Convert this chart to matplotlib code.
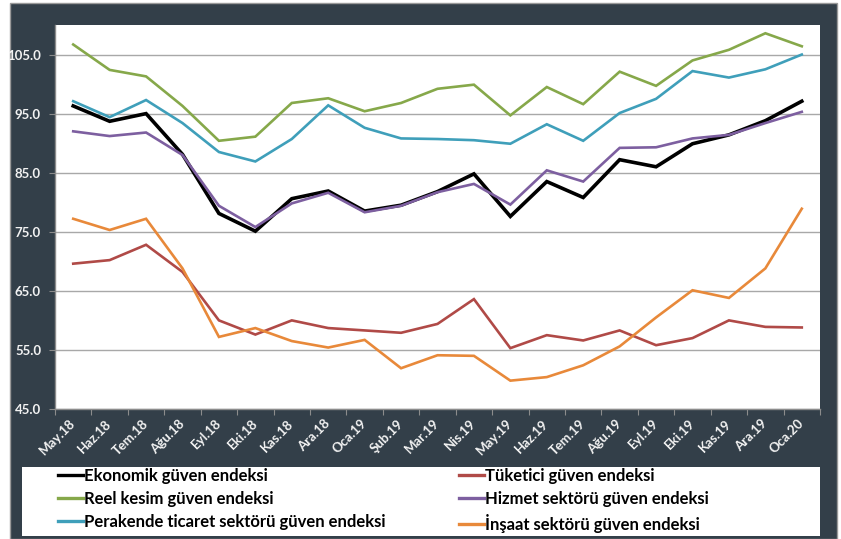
import matplotlib
matplotlib.use("Agg")
import matplotlib.pyplot as plt
import matplotlib.transforms as mtransforms
from matplotlib.patches import Rectangle
from matplotlib.lines import Line2D

plt.rcParams['font.family'] = ['Lato', 'DejaVu Sans']

months = ["May.18", "Haz.18", "Tem.18", "Ağu.18", "Eyl.18", "Eki.18", "Kas.18", "Ara.18",
          "Oca.19", "Şub.19", "Mar.19", "Nis.19", "May.19", "Haz.19", "Tem.19", "Ağu.19",
          "Eyl.19", "Eki.19", "Kas.19", "Ara.19", "Oca.20"]

ekonomik = [96.3, 93.7, 95.0, 88.1, 78.1, 75.1, 80.6, 81.9, 78.5, 79.5, 81.8, 84.8, 77.6,
            83.5, 80.8, 87.2, 86.0, 89.9, 91.4, 93.8, 97.1]
tuketici = [69.6, 70.2, 72.8, 68.2, 60.0, 57.6, 60.0, 58.7, 58.3, 57.9, 59.4, 63.6, 55.3,
            57.5, 56.6, 58.3, 55.8, 57.0, 60.0, 58.9, 58.8]
reel = [106.7, 102.4, 101.3, 96.3, 90.4, 91.1, 96.8, 97.6, 95.4, 96.8, 99.2, 99.9, 94.7,
        99.5, 96.6, 102.1, 99.7, 104.0, 105.8, 108.6, 106.4]
hizmet = [92.0, 91.2, 91.8, 88.0, 79.4, 75.8, 79.8, 81.6, 78.3, 79.4, 81.7, 83.1, 79.6,
          85.4, 83.5, 89.2, 89.3, 90.8, 91.4, 93.4, 95.3]
perakende = [97.1, 94.4, 97.3, 93.4, 88.5, 86.9, 90.7, 96.4, 92.6, 90.8, 90.7, 90.5, 89.9,
             93.2, 90.4, 95.1, 97.5, 102.2, 101.1, 102.5, 105.0]
insaat = [77.2, 75.3, 77.2, 68.8, 57.2, 58.7, 56.5, 55.4, 56.7, 51.9, 54.1, 54.0, 49.8,
          50.4, 52.4, 55.6, 60.5, 65.1, 63.8, 68.8, 78.9]

series = [
    ("Ekonomik güven endeksi", ekonomik, "#000000", 2.6),
    ("Tüketici güven endeksi", tuketici, "#B04A47", 1.9),
    ("Reel kesim güven endeksi", reel, "#86A84A", 1.9),
    ("Hizmet sektörü güven endeksi", hizmet, "#7D5FA0", 1.9),
    ("Perakende ticaret sektörü güven endeksi", perakende, "#3F9FBA", 1.9),
    ("İnşaat sektörü güven endeksi", insaat, "#E8893A", 1.9),
]

yticks = [45, 55, 65, 75, 85, 95, 105]

W, H = 841, 539
fig = plt.figure(figsize=(W / 100, H / 100), dpi=100)
fig.patch.set_facecolor("white")

bg = "#333F49"
fig.patches.append(Rectangle((10 / W, 0), 827 / W, 1 - 3 / H, transform=fig.transFigure,
                             facecolor=bg, edgecolor="#9A9A9A", linewidth=1.0, zorder=-10))
# legend area
fig.patches.append(Rectangle((22 / W, 1 - 536 / H), (820 - 22) / W, (536 - 467) / H,
                             transform=fig.transFigure, facecolor="white", edgecolor="none",
                             zorder=-5))

ax = fig.add_axes([55 / W, 1 - 409 / H, (820 - 55) / W, (409 - 25) / H])
ax.set_facecolor("white")

x = list(range(len(months)))
handles = {}
for name, vals, col, lw in series:
    ax.plot(x, vals, color=col, lw=lw, solid_joinstyle="miter", zorder=3)
    handles[name] = (col, lw)

ax.set_xlim(-0.5, len(months) - 0.5)
ax.set_ylim(45, 110)
ax.set_yticks(yticks)
ax.set_yticklabels([f"{v:.1f}" for v in yticks], color="#F2F2F2", fontsize=9.5, fontweight="bold")
ax.yaxis.grid(True, color="#A8A8A8", lw=1.0, zorder=1)
ax.set_axisbelow(True)

ax.set_xticks([i + 0.5 for i in range(-1, len(months))], minor=False)
ax.set_xticklabels([])
ax.set_xticks(x, minor=True)
ax.set_xticklabels(months, minor=True, rotation=45, ha="right", va="center",
                   rotation_mode="anchor", color="#F2F2F2", fontsize=9.5, fontweight="bold")
offset = mtransforms.ScaledTranslation(7 / 100, 0, fig.dpi_scale_trans)
for lab in ax.get_xticklabels(minor=True):
    lab.set_transform(lab.get_transform() + offset)
ax.tick_params(axis="x", which="minor", length=0, pad=9)
ax.tick_params(axis="x", which="major", length=4, color="#8C8C8C", direction="out")
ax.tick_params(axis="y", length=4, color="#8C8C8C", pad=6)

for s in ["top", "right"]:
    ax.spines[s].set_visible(False)
for s in ["left", "bottom"]:
    ax.spines[s].set_color("#8C8C8C")
    ax.spines[s].set_linewidth(1.0)


def make_legend(names, x0):
    hs = [Line2D([], [], color=handles[n][0], lw=2.4) for n in names]
    leg = fig.legend(hs, names, loc="upper left", bbox_to_anchor=(x0 / W, 1 - 468 / H),
                     frameon=False, borderpad=0, borderaxespad=0, handlelength=1.5,
                     handletextpad=0.05, labelspacing=0.42,
                     prop={"family": ["Lato", "DejaVu Sans"], "weight": "bold", "size": 12})
    leg.set_zorder(5)
    return leg


make_legend(["Ekonomik güven endeksi", "Reel kesim güven endeksi",
             "Perakende ticaret sektörü güven endeksi"], 58)
make_legend(["Tüketici güven endeksi", "Hizmet sektörü güven endeksi",
             "İnşaat sektörü güven endeksi"], 459)

fig.savefig("out.png", dpi=100, facecolor=fig.get_facecolor())
